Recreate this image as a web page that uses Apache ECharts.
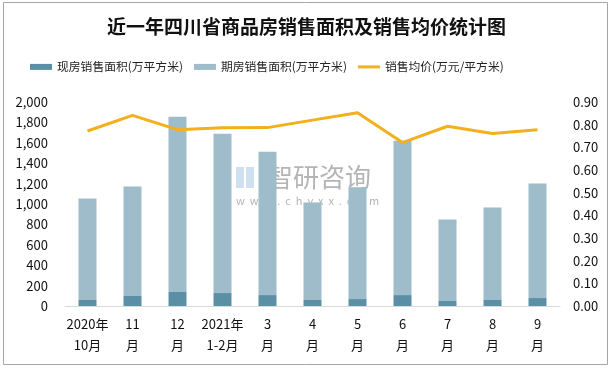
<!DOCTYPE html>
<html><head><meta charset="utf-8">
<script src="https://cdn.jsdelivr.net/npm/echarts@6/dist/echarts.min.js"></script>
<style>html,body{margin:0;padding:0;background:#fff}#c{width:613px;height:369px}</style>
</head><body><div id="c"></div>
<script>
const categories = ['2020年\n10月','11\n月','12\n月','2021年\n1-2月','3\n月','4\n月','5\n月','6\n月','7\n月','8\n月','9\n月'];
const spotArea = [59, 98, 137, 127, 107, 59, 68, 107, 49, 59, 78];
const totalArea = [1055, 1172, 1855, 1688, 1512, 1014, 1165, 1620, 849, 966, 1200];
const futuresArea = totalArea.map((t, i) => t - spotArea[i]);
const avgPrice = [0.772, 0.841, 0.778, 0.786, 0.787, 0.820, 0.853, 0.721, 0.793, 0.761, 0.778];
const leftTicks = [0, 2000, 200];
const rightTicks = [0, 0.9, 0.1];

const font = '"Noto Sans CJK SC", "Noto Sans", sans-serif';
const chart = echarts.init(document.getElementById('c'));
chart.setOption({
  animation: false,
  textStyle: {fontFamily: font},
  title: {
    text: '近一年四川省商品房销售面积及销售均价统计图',
    left: 'center', top: 12,
    textStyle: {fontSize: 19, fontWeight: 'bold', color: '#111', fontFamily: font}
  },
  legend: {
    top: 56, left: 25, itemWidth: 22, itemHeight: 6, itemGap: 11,
    textStyle: {fontSize: 11.8, color: '#222', fontFamily: font},
    data: [
      {name: '现房销售面积(万平方米)', icon: 'rect'},
      {name: '期房销售面积(万平方米)', icon: 'rect'},
      {name: '销售均价(万元/平方米)', icon: 'path://M0 0H22V3H0Z'}
    ]
  },
  grid: {left: 65, right: 53, top: 102, bottom: 63},
  xAxis: {
    type: 'category', data: categories,
    axisLine: {lineStyle: {color: '#d9d9d9'}},
    axisTick: {show: false},
    axisLabel: {color: '#111', fontSize: 13, lineHeight: 21, margin: 8, interval: 0}
  },
  yAxis: [
    {type: 'value', min: leftTicks[0], max: leftTicks[1], interval: leftTicks[2],
     splitLine: {show: false}, axisLine: {show: false}, axisTick: {show: false},
     axisLabel: {color: '#111', fontSize: 13, margin: 17,
       formatter: v => v.toLocaleString('en-US')}},
    {type: 'value', min: rightTicks[0], max: rightTicks[1], interval: rightTicks[2],
     splitLine: {show: false}, axisLine: {show: false}, axisTick: {show: false},
     axisLabel: {color: '#111', fontSize: 13, margin: 13,
       formatter: v => v.toFixed(2)}}
  ],
  series: [
    {name: '现房销售面积(万平方米)', type: 'bar', stack: 'a', barWidth: 18,
     itemStyle: {color: '#5b8fa6'}, data: spotArea},
    {name: '期房销售面积(万平方米)', type: 'bar', stack: 'a', barWidth: 18,
     itemStyle: {color: '#9ebcca'}, data: futuresArea},
    {name: '销售均价(万元/平方米)', type: 'line', yAxisIndex: 1, symbol: 'none',
     lineStyle: {color: '#f2b01e', width: 3}, itemStyle: {color: '#f2b01e'}, data: avgPrice}
  ],
  graphic: [
    {type: 'rect', shape: {x: 3.5, y: 2.5, width: 604, height: 362},
     style: {fill: 'none', stroke: '#a6a6a6', lineWidth: 1}, silent: true},
    {type: 'group', left: 236, top: 164, silent: true, z: 100, children: [
      {type: 'rect', shape: {x: 0, y: 3, width: 8, height: 21}, style: {fill: 'rgba(160,195,225,0.5)'}},
      {type: 'rect', shape: {x: 10, y: 3, width: 8, height: 21}, style: {fill: 'rgba(160,195,225,0.5)'}},
      {type: 'text', style: {x: 31, y: 0, text: '智研咨询', fontSize: 26, fill: 'rgba(130,130,130,0.6)', fontFamily: font}},
      {type: 'text', style: {x: 0, y: 31, text: 'w  w  w  .  c  h  y  x  x  .  c  o  m', fontSize: 11, fill: 'rgba(130,130,130,0.6)', fontFamily: font}}
    ]}
  ]
});
</script></body></html>
